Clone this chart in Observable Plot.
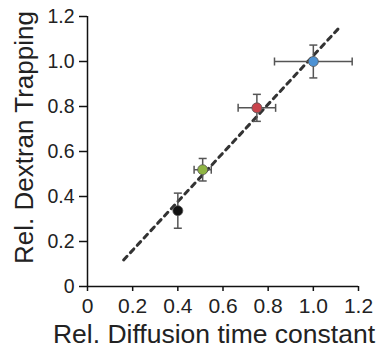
<!DOCTYPE html>
<html>
<head>
<meta charset="utf-8">
<script src="https://cdn.jsdelivr.net/npm/d3@7"></script>
<script src="https://cdn.jsdelivr.net/npm/@observablehq/plot@0.6"></script>
<style>
  html, body { margin: 0; padding: 0; background: #fff; }
</style>
</head>
<body>
<div id="chart"></div>
<script>
// Data
const groups = ["black", "green", "red", "blue"];
const colors = ["#111111", "#8fb543", "#c9434b", "#4d92d4"];
const xVals = [0.40, 0.51, 0.75, 1.00];
const yVals = [0.337, 0.519, 0.794, 1.00];
const xErr = [0.0, 0.038, 0.083, 0.172];
const yErr = [0.078, 0.05, 0.06, 0.073];
const fitX = [0.16, 1.11];
const fitY = [0.118, 1.145];
const xTicks = [0, 0.2, 0.4, 0.6, 0.8, 1.0, 1.2];
const yTicks = [0, 0.2, 0.4, 0.6, 0.8, 1.0, 1.2];
const xTitle = "Rel. Diffusion time constant";
const yTitle = "Rel. Dextran Trapping";

const pts = groups.map((g, i) => ({g, c: colors[i], x: xVals[i], y: yVals[i], ex: xErr[i], ey: yErr[i]}));
const fit = fitX.map((x, i) => ({x, y: fitY[i]}));
const fmt = d => d === 0 ? "0" : d.toFixed(1);

const hCap = {draw(ctx, size) { const r = Math.sqrt(size / Math.PI); ctx.moveTo(-r, 0); ctx.lineTo(r, 0); }};
const vCap = {draw(ctx, size) { const r = Math.sqrt(size / Math.PI); ctx.moveTo(0, -r); ctx.lineTo(0, r); }};
const errColor = "#555";

const chart = Plot.plot({
  width: 376,
  height: 354,
  marginLeft: 87,
  marginRight: 18,
  marginTop: 16,
  marginBottom: 68,
  style: {fontFamily: "'Liberation Sans', Arial, sans-serif", fontSize: "21px", color: "#222", background: "#fff", overflow: "visible"},
  x: {domain: [0, 1.2]},
  y: {domain: [0, 1.2]},
  marks: [
    Plot.axisX({ticks: xTicks, tickFormat: fmt, tickSize: 5, tickPadding: 7, label: null, fontSize: 21, stroke: "#111", strokeWidth: 1.5}),
    Plot.axisY({ticks: yTicks, tickFormat: fmt, tickSize: 8, tickPadding: 5, label: null, fontSize: 19.5, stroke: "#111", strokeWidth: 1.5}),
    Plot.ruleY([0], {stroke: "#111", strokeWidth: 1.5}),
    Plot.ruleX([0], {stroke: "#111", strokeWidth: 1.5}),
    Plot.line(fit, {x: "x", y: "y", stroke: "#333", strokeWidth: 3, strokeDasharray: "5,5"}),
    // vertical error bars
    Plot.link(pts, {x1: "x", x2: "x", y1: d => d.y - d.ey, y2: d => d.y + d.ey, stroke: errColor, strokeWidth: 1.5}),
    Plot.dot(pts, {x: "x", y: d => d.y - d.ey, symbol: hCap, r: 4, stroke: errColor, strokeWidth: 1.5, fill: "none"}),
    Plot.dot(pts, {x: "x", y: d => d.y + d.ey, symbol: hCap, r: 4, stroke: errColor, strokeWidth: 1.5, fill: "none"}),
    // horizontal error bars
    Plot.link(pts.filter(d => d.ex > 0), {x1: d => d.x - d.ex, x2: d => d.x + d.ex, y1: "y", y2: "y", stroke: errColor, strokeWidth: 1.5}),
    Plot.dot(pts.filter(d => d.ex > 0), {x: d => d.x - d.ex, y: "y", symbol: vCap, r: 4, stroke: errColor, strokeWidth: 1.5, fill: "none"}),
    Plot.dot(pts.filter(d => d.ex > 0), {x: d => d.x + d.ex, y: "y", symbol: vCap, r: 4, stroke: errColor, strokeWidth: 1.5, fill: "none"}),
    // points
    Plot.dot(pts, {x: "x", y: "y", r: 5, fill: d => d.c, stroke: "#555", strokeWidth: 0.8}),
    // axis titles
    Plot.text([xTitle], {frameAnchor: "bottom", text: d => d, textAnchor: "middle", lineAnchor: "bottom", dy: 56, dx: -9, fontSize: 26.5, fill: "#222"}),
    Plot.text([yTitle], {frameAnchor: "left", text: d => d, textAnchor: "middle", rotate: -90, lineAnchor: "bottom", dx: -55, dy: -14, fontSize: 26, fill: "#222"})
  ]
});
document.getElementById("chart").appendChild(chart);
</script>
</body>
</html>
